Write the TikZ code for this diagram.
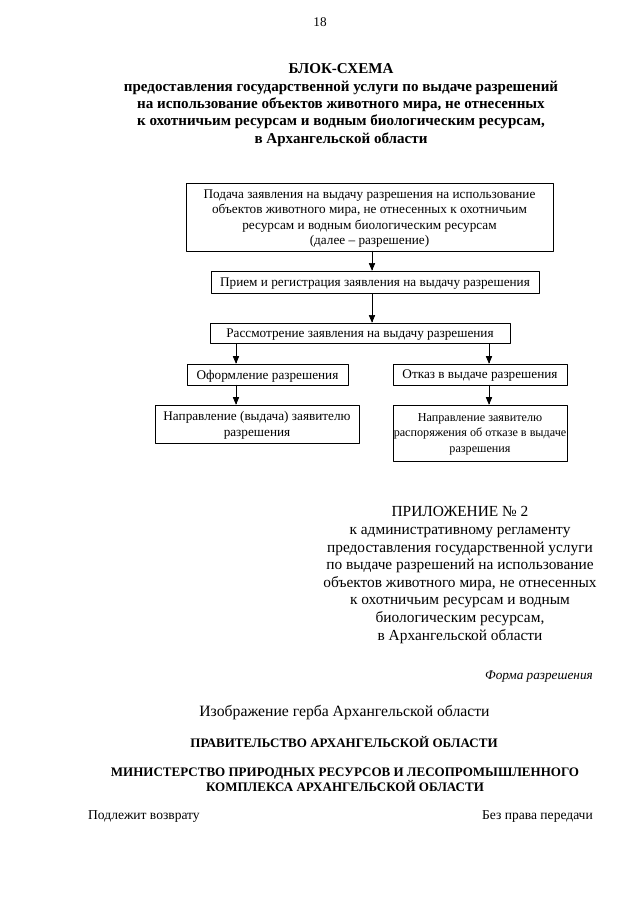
\documentclass[tikz,border=0pt]{standalone}
\usepackage{fontspec}
\setmainfont{Liberation Serif}
\usetikzlibrary{arrows}

\begin{document}
\begin{tikzpicture}[line cap=round,line join=round,>=triangle 45,x=0.93pt,y=-0.93pt,
  blok/.style={draw,line width=0.6pt,align=center,inner sep=1pt,text depth=-3pt,font=\fontsize{12.3}{14.3}\selectfont},
  txt/.style={align=center,inner sep=0pt,font=\fontsize{14.3}{16.4}\selectfont},
  small/.style={inner sep=0pt,font=\fontsize{12.3}{14.3}\selectfont}]
\useasboundingbox (0,0) rectangle (640,905);
\node[small] (page) at (320,22) {18};
% title
\node[txt,font=\fontsize{14}{16.1}\selectfont\bfseries] (title) at (341,105) {БЛОК-СХЕМА\\
предоставления государственной услуги по выдаче разрешений\\
на использование объектов животного мира, не отнесенных\\
к охотничьим ресурсам и водным биологическим ресурсам,\\
в Архангельской области};
% boxes
\node[blok,minimum width=341pt,minimum height=63pt] (podacha) at (369.5,217) {Подача заявления на выдачу разрешения на использование\\
объектов животного мира, не отнесенных к охотничьим\\
ресурсам и водным биологическим ресурсам\\
(далее -- разрешение)};
\node[blok,minimum width=305pt,minimum height=20.5pt] (priem) at (375,282) {Прием и регистрация заявления на выдачу разрешения};
\node[blok,minimum width=279pt,minimum height=18.6pt] (rassm) at (360,333) {Рассмотрение заявления на выдачу разрешения};
\node[blok,minimum width=149.7pt,minimum height=19.5pt] (oform) at (267.5,374.5) {Оформление разрешения};
\node[blok,minimum width=161.8pt,minimum height=19.5pt] (otkaz) at (480,374.5) {Отказ в выдаче разрешения};
\node[blok,minimum width=189.7pt,minimum height=35.3pt] (vydacha) at (257,424) {Направление (выдача) заявителю\\[1pt]разрешения};
\node[blok,minimum width=161.8pt,minimum height=52pt,inner xsep=0pt,font=\fontsize{11.3}{13.6}\selectfont] (rasp) at (480,433) {Направление заявителю\\[1pt]распоряжения об отказе в выдаче\\[1pt]разрешения};
\coordinate (mid) at (372,0);
\coordinate (lft) at (236,0);
\coordinate (rgt) at (489,0);
% arrows
\draw[->,line width=0.6pt] (podacha.south -| mid) -- (priem.north -| mid);
\draw[->,line width=0.6pt] (priem.south -| mid) -- (rassm.north -| mid);
\draw[->,line width=0.6pt] (rassm.south -| lft) -- (oform.north -| lft);
\draw[->,line width=0.6pt] (rassm.south -| rgt) -- (otkaz.north -| rgt);
\draw[->,line width=0.6pt] (oform.south -| lft) -- (vydacha.north -| lft);
\draw[->,line width=0.6pt] (otkaz.south -| rgt) -- (rasp.north -| rgt);
% appendix
\node[txt] (prilozh) at (460,575) {ПРИЛОЖЕНИЕ № 2\\
к административному регламенту\\
предоставления государственной услуги\\
по выдаче разрешений на использование\\
объектов животного мира, не отнесенных\\
к охотничьим ресурсам и водным\\
биологическим ресурсам,\\
в Архангельской области};
\node[small,anchor=east,font=\fontsize{12.3}{14.3}\selectfont\itshape] (forma) at (593,677) {Форма разрешения};
\node[txt,font=\fontsize{14.6}{16.6}\selectfont] (gerb) at (344.5,713) {Изображение герба Архангельской области};
\node[small,font=\fontsize{12.1}{14}\selectfont\bfseries] (prav) at (344,742) {ПРАВИТЕЛЬСТВО АРХАНГЕЛЬСКОЙ ОБЛАСТИ};
\node[small,align=center,font=\fontsize{12.1}{14}\selectfont\bfseries] (minist) at (345,779.5) {МИНИСТЕРСТВО ПРИРОДНЫХ РЕСУРСОВ И ЛЕСОПРОМЫШЛЕННОГО\\КОМПЛЕКСА АРХАНГЕЛЬСКОЙ ОБЛАСТИ};
\node[small,anchor=base west,font=\fontsize{12.6}{14.5}\selectfont] (vozvrat) at (88,819) {Подлежит возврату};
\node[small,anchor=base east,font=\fontsize{12.6}{14.5}\selectfont] (peredacha) at (593,819) {Без права передачи};
\end{tikzpicture}
\end{document}
